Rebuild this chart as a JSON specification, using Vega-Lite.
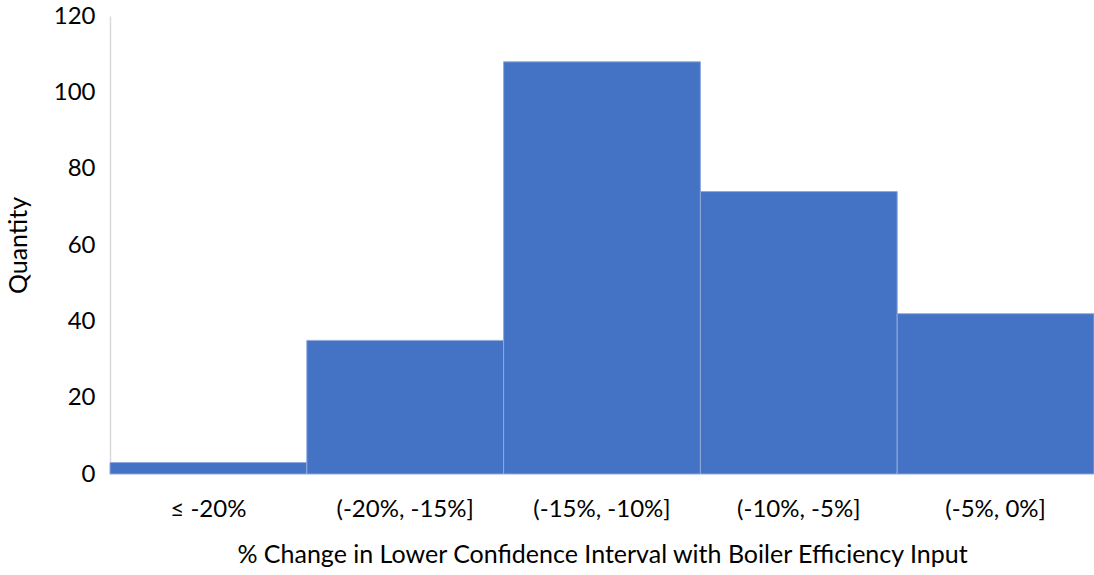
{
  "$schema": "https://vega.github.io/schema/vega-lite/v6.json",
  "width": 984,
  "height": 458,
  "autosize": "none",
  "padding": {"left": 110, "top": 16, "right": 0, "bottom": 101},
  "background": "white",
  "config": {
    "view": {"stroke": null},
    "font": "Lato"
  },
  "data": {
    "values": [
      {"bin": "≤ -20%", "quantity": 3},
      {"bin": "(-20%, -15%]", "quantity": 35},
      {"bin": "(-15%, -10%]", "quantity": 108},
      {"bin": "(-10%, -5%]", "quantity": 74},
      {"bin": "(-5%, 0%]", "quantity": 42}
    ]
  },
  "mark": {"type": "bar", "color": "#4472C4", "stroke": "#8FAADC", "strokeWidth": 1},
  "encoding": {
    "x": {
      "field": "bin",
      "type": "nominal",
      "sort": null,
      "scale": {"paddingInner": 0, "paddingOuter": 0},
      "axis": {
        "title": "% Change in Lower Confidence Interval with Boiler Efficiency Input",
        "labelAngle": 0,
        "domain": false,
        "ticks": false,
        "labelPadding": 23,
        "labelFontSize": 24,
        "labelColor": "#000000",
        "titleFontSize": 25,
        "titleFontWeight": "normal",
        "titleColor": "#000000",
        "titlePadding": 21
      }
    },
    "y": {
      "field": "quantity",
      "type": "quantitative",
      "scale": {"domain": [0, 120]},
      "axis": {
        "title": "Quantity",
        "values": [0, 20, 40, 60, 80, 100, 120],
        "grid": false,
        "ticks": false,
        "domainColor": "#D9D9D9",
        "domainWidth": 1.5,
        "labelPadding": 15,
        "labelFontSize": 24,
        "labelColor": "#000000",
        "titleFontSize": 25,
        "titleFontWeight": "normal",
        "titleColor": "#000000",
        "titlePadding": 22
      }
    }
  }
}
